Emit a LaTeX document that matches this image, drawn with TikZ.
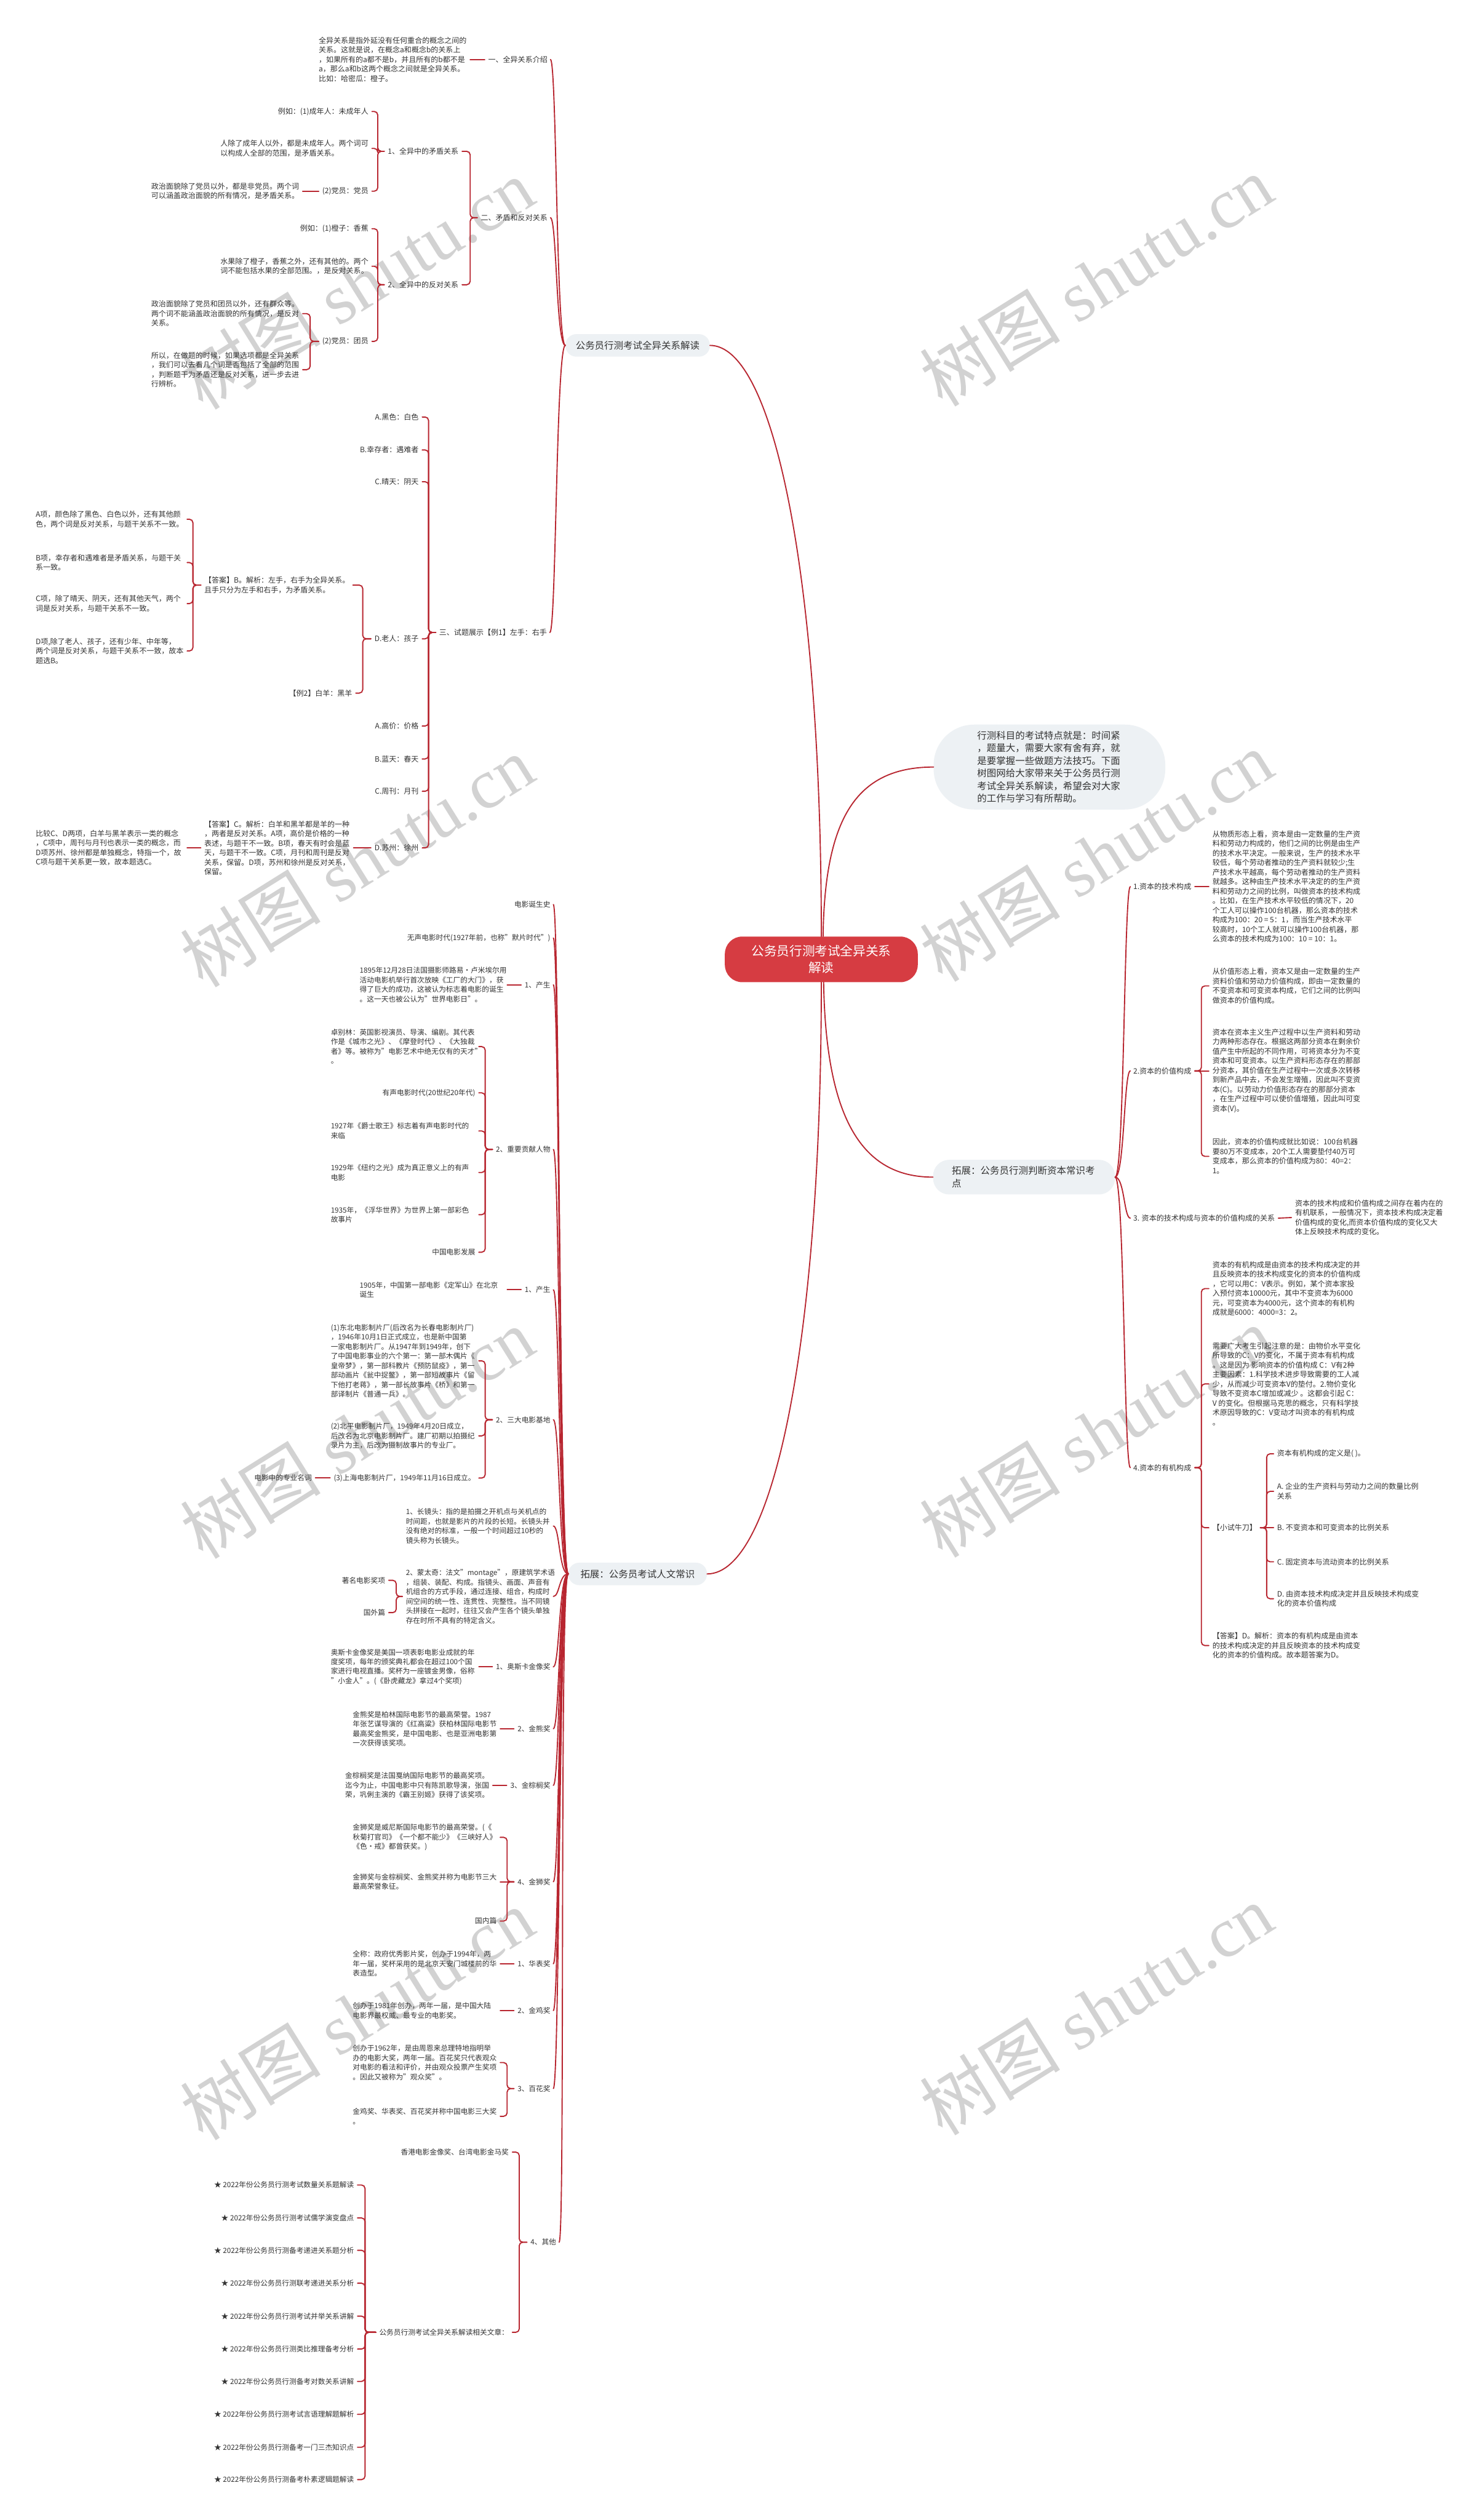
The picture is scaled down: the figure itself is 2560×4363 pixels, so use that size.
\documentclass[tikz,border=0pt]{standalone}
\usepackage{fontspec}
\setmainfont{Noto Sans CJK SC}
\newfontfamily\wmlat{Liberation Serif}
\usetikzlibrary{calc}
\definecolor{lc}{HTML}{B82630}
\definecolor{tc}{HTML}{333333}
\definecolor{pillc}{HTML}{EDF1F4}
\definecolor{redc}{HTML}{D63C42}
\definecolor{wmc}{HTML}{D2D2D2}
\newcommand{\fsa}{\fontsize{12.8}{16.5}\selectfont}
\newcommand{\fsb}{\fontsize{12.45}{16.5}\selectfont}
\newcommand{\fsm}{\fontsize{16.5}{21.8}\selectfont}
\newcommand{\fsc}{\fontsize{22}{29}\selectfont}
\newcommand{\fsw}{\fontsize{122}{122}\selectfont}
\tikzset{
 conn/.style={draw=lc, line width=2pt, line cap=round},
 basetxt/.style={inner sep=0pt, text=tc, align=left},
 tl/.style={basetxt, anchor=east, font=\fsa},
 tr/.style={basetxt, anchor=west, font=\fsa},
 bl/.style={basetxt, anchor=east, font=\fsb},
 pill/.style={fill=pillc, inner sep=0pt, text=tc, font=\fsm, align=center},
 wmk/.style={anchor=base west, rotate=32, text=wmc, inner sep=0pt, font=\fsw},
}
\newcommand{\hlink}[2]{\draw[conn] ([xshift=6]#1.east) -- ([xshift=-6]#2.west);}
\newcommand{\brL}[3]{\draw[conn, rounded corners=6] ([xshift=-6]#1.west) -- (#3 |- #1.west) |- ([xshift=6]#2.east);}
\newcommand{\brR}[3]{\draw[conn, rounded corners=6] ([xshift=6]#1.east) -- (#3 |- #1.east) |- ([xshift=-6]#2.west);}
\newcommand{\cvL}[2]{\draw[conn] (#1.west) .. controls ($(#1.west)+(-16,0)$) and ($(#2.east)+(16,0)$) .. ($(#2.east)+(5,0)$);}
\newcommand{\cvR}[2]{\draw[conn] (#1.east) .. controls ($(#1.east)+(16,0)$) and ($(#2.west)+(-16,0)$) .. ($(#2.west)+(-5,0)$);}
\begin{document}
\begin{tikzpicture}[x=1pt, y=-1pt]
\useasboundingbox (0,0) rectangle (2560,4363);
\fill[white] (0,0) rectangle (2560,4363);
% watermarks
\foreach \yy in {712,1712,2702,3708} {\node[wmk] at (352,\yy) {树图\hspace{0.25em}{\wmlat shutu.cn}};}
\foreach \yy in {707,1703,2700,3700} {\node[wmk] at (1632,\yy) {树图\hspace{0.25em}{\wmlat shutu.cn}};}
% ===== center and level 1 =====
\node[fill=redc, text=white, font=\fsc, align=center, inner sep=0pt, minimum width=334, minimum height=79, rounded corners=30] (ctr) at (1422,1661) {公务员行测考试全异关系\\解读};
\node[pill, minimum width=250, minimum height=39, rounded corners=19] (L1a) at (1104,598) {公务员行测考试全异关系解读};
\node[pill, minimum width=401, minimum height=147, rounded corners=70, text width=250, align=left] (R1) at (1817,1328) {行测科目的考试特点就是：时间紧\\，题量大，需要大家有舍有弃，就\\是要掌握一些做题方法技巧。下面\\树图网给大家带来关于公务员行测\\考试全异关系解读，希望会对大家\\的工作与学习有所帮助。};
\node[pill, minimum width=315, minimum height=60, rounded corners=28, text width=250, align=left] (R2) at (1773,2038) {拓展：公务员行测判断资本常识考\\点};
\node[pill, minimum width=240, minimum height=39, rounded corners=19] (L1b) at (1104,2725) {拓展：公务员考试人文常识};
\draw[conn] (ctr.north) .. controls (1422,1000) and (1340,598) .. (L1a.east);
\draw[conn] ([xshift=3]ctr.north) .. controls (1428,1420) and (1480,1328) .. (R1.west);
\draw[conn] (ctr.south) .. controls (1422,2320) and (1340,2725) .. (L1b.east);
\draw[conn] ([xshift=4]ctr.south) .. controls (1430,1950) and (1500,2038) .. (R2.west);
% ===== L1a subtree =====
\node[tl] (c1) at (948,103) {一、全异关系介绍};
\node[tl] (c2) at (948,377) {二、矛盾和反对关系};
\node[tl] (c3) at (947,1095) {三、试题展示【例1】左手：右手};
\cvL{L1a}{c1} \cvL{L1a}{c2} \cvL{L1a}{c3}
\node[tl, text width=256] (t1) at (808,103) {全异关系是指外延没有任何重合的概念之间的\\关系。这就是说，在概念a和概念b的关系上\\，如果所有的a都不是b，并且所有的b都不是\\a，那么a和b这两个概念之间就是全异关系。\\比如：哈密瓜：橙子。};
\hlink{t1}{c1}
\coordinate (xB2) at (814,0);
\node[tl] (c2a) at (794,262) {1、全异中的矛盾关系};
\node[tl] (c2b) at (794,493) {2、全异中的反对关系};
\brL{c2}{c2a}{xB2} \brL{c2}{c2b}{xB2}
\coordinate (xB3) at (654,0);
\node[tl] (d1) at (638,193) {例如：(1)成年人：未成年人};
\node[tl, text width=256] (d2) at (638,257) {人除了成年人以外，都是未成年人。两个词可\\以构成人全部的范围，是矛盾关系。};
\node[tl] (d3) at (638,331) {(2)党员：党员};
\brL{c2a}{d1}{xB3} \brL{c2a}{d2}{xB3} \brL{c2a}{d3}{xB3}
\node[tl, text width=256] (e1) at (518,331) {政治面貌除了党员以外，都是非党员。两个词\\可以涵盖政治面貌的所有情况，是矛盾关系。};
\hlink{e1}{d3}
\node[tl] (d4) at (638,396) {例如：(1)橙子：香蕉};
\node[tl, text width=256] (d5) at (638,461) {水果除了橙子，香蕉之外，还有其他的。两个\\词不能包括水果的全部范围。，是反对关系。};
\node[tl] (d6) at (638,591) {(2)党员：团员};
\brL{c2b}{d4}{xB3} \brL{c2b}{d5}{xB3} \brL{c2b}{d6}{xB3}
\coordinate (xB4) at (537,0);
\node[tl, text width=256] (e2) at (518,543) {政治面貌除了党员和团员以外，还有群众等。\\两个词不能涵盖政治面貌的所有情况，是反对\\关系。};
\node[tl, text width=256] (e3) at (518,640) {所以，在做题的时候，如果选项都是全异关系\\，我们可以去看几个词是否包括了全部的范围\\，判断题干为矛盾还是反对关系，进一步去进\\行辨析。};
\brL{d6}{e2}{xB4} \brL{d6}{e3}{xB4}
% c3 subtree
\coordinate (xB5) at (742,0);
\node[tl] (f1) at (725,722) {A.黑色：白色};
\node[tl] (f2) at (725,779) {B.幸存者：遇难者};
\node[tl] (f3) at (725,834) {C.晴天：阴天};
\node[tl] (f4) at (725,1106) {D.老人：孩子};
\node[tl] (f5) at (725,1257) {A.高价：价格};
\node[tl] (f6) at (725,1314) {B.蓝天：春天};
\node[tl] (f7) at (725,1370) {C.周刊：月刊};
\node[tl] (f8) at (725,1468) {D.苏州：徐州};
\foreach \n in {f1,f2,f3,f4,f5,f6,f7,f8} {\brL{c3}{\n}{xB5}}
\coordinate (xB6) at (628,0);
\node[tl, text width=251] (g1) at (605,1013) {【答案】B。解析：左手，右手为全异关系。\\且手只分为左手和右手，为矛盾关系。};
\node[tl] (g2) at (610,1200) {【例2】白羊：黑羊};
\brL{f4}{g1}{xB6} \brL{f4}{g2}{xB6}
\coordinate (xB7) at (334,0);
\node[tl, text width=256] (h1) at (318,899) {A项，颜色除了黑色、白色以外，还有其他颜\\色，两个词是反对关系，与题干关系不一致。};
\node[tl, text width=256] (h2) at (318,974) {B项，幸存者和遇难者是矛盾关系，与题干关\\系一致。};
\node[tl, text width=256] (h3) at (318,1045) {C项，除了晴天、阴天，还有其他天气，两个\\词是反对关系，与题干关系不一致。};
\node[tl, text width=256] (h4) at (318,1127) {D项,除了老人、孩子，还有少年、中年等，\\两个词是反对关系，与题干关系不一致，故本\\题选B。};
\foreach \n in {h1,h2,h3,h4} {\brL{g1}{\n}{xB7}}
\node[tl, text width=252] (g3) at (606,1468) {【答案】C。解析：白羊和黑羊都是羊的一种\\，两者是反对关系。A项，高价是价格的一种\\表述，与题干不一致。B项，春天有时会是蓝\\天，与题干不一致。C项，月刊和周刊是反对\\关系，保留。D项，苏州和徐州是反对关系，\\保留。};
\hlink{g3}{f8}
\node[tl, text width=256] (h5) at (318,1468) {比较C、D两项，白羊与黑羊表示一类的概念\\，C项中，周刊与月刊也表示一类的概念，而\\D项苏州、徐州都是单独概念，特指一个，故\\C项与题干关系更一致，故本题选C。};
\hlink{h5}{g3}
% ===== R2 subtree =====
\node[tr] (k1) at (1962,1535) {1.资本的技术构成};
\node[tr] (k2) at (1962,1854) {2.资本的价值构成};
\node[tr] (k3) at (1962,2109) {3. 资本的技术构成与资本的价值构成的关系};
\node[tr] (k4) at (1962,2541) {4.资本的有机构成};
\cvR{R2}{k1} \cvR{R2}{k2} \cvR{R2}{k3} \cvR{R2}{k4}
\node[tr] (m1) at (2099,1535) {从物质形态上看，资本是由一定数量的生产资\\料和劳动力构成的，他们之间的比例是由生产\\的技术水平决定。一般来说，生产的技术水平\\较低，每个劳动者推动的生产资料就较少;生\\产技术水平越高，每个劳动者推动的生产资料\\就越多。这种由生产技术水平决定的的生产资\\料和劳动力之间的比例，叫做资本的技术构成\\。比如，在生产技术水平较低的情况下，20\\个工人可以操作100台机器，那么资本的技术\\构成为100：20 = 5：1，而当生产技术水平\\较高时，10个工人就可以操作100台机器，那\\么资本的技术构成为100：10 = 10：1。};
\hlink{k1}{m1}
\coordinate (xB8) at (2080,0);
\node[tr] (m2) at (2099,1707) {从价值形态上看，资本又是由一定数量的生产\\资料价值和劳动力价值构成，即由一定数量的\\不变资本和可变资本构成，它们之间的比例叫\\做资本的价值构成。};
\node[tr] (m3) at (2099,1854) {资本在资本主义生产过程中以生产资料和劳动\\力两种形态存在。根据这两部分资本在剩余价\\值产生中所起的不同作用，可将资本分为不变\\资本和可变资本。以生产资料形态存在的那部\\分资本，其价值在生产过程中一次或多次转移\\到新产品中去，不会发生增殖，因此叫不变资\\本(C)。以劳动力价值形态存在的那部分资本\\，在生产过程中可以使价值增殖，因此叫可变\\资本(V)。};
\node[tr] (m4) at (2099,2002) {因此，资本的价值构成就比如说：100台机器\\要80万不变成本，20个工人需要垫付40万可\\变成本，那么资本的价值构成为80：40=2：\\1。};
\brR{k2}{m2}{xB8} \hlink{k2}{m3} \brR{k2}{m4}{xB8}
\node[tr] (m5) at (2242,2108) {资本的技术构成和价值构成之间存在着内在的\\有机联系，一般情况下，资本技术构成决定着\\价值构成的变化,而资本价值构成的变化又大\\体上反映技术构成的变化。};
\hlink{k3}{m5}
\node[tr] (m6) at (2099,2231) {资本的有机构成是由资本的技术构成决定的并\\且反映资本的技术构成变化的资本的价值构成\\，它可以用C：V表示。例如，某个资本家投\\入预付资本10000元，其中不变资本为6000\\元，可变资本为4000元，这个资本的有机构\\成就是6000：4000=3：2。};
\node[tr] (m7) at (2099,2396) {需要广大考生引起注意的是：由物价水平变化\\所导致的C：V的变化，不属于资本有机构成\\。这是因为 影响资本的价值构成 C：V有2种\\主要因素：1.科学技术进步导致需要的工人减\\少，从而减少可变资本V的垫付。2.物价变化\\导致不变资本C增加或减少 。这都会引起 C：\\V 的变化。但根据马克思的概念，只有科学技\\术原因导致的C：V变动才叫资本的有机构成\\。};
\node[tr] (m8) at (2099,2645) {【小试牛刀】};
\node[tr] (m9) at (2099,2849) {【答案】D。解析：资本的有机构成是由资本\\的技术构成决定的并且反映资本的技术构成变\\化的资本的价值构成。故本题答案为D。};
\foreach \n in {m6,m7,m8,m9} {\brR{k4}{\n}{xB8}}
\coordinate (xB10) at (2193,0);
\node[tr] (n1) at (2211,2517) {资本有机构成的定义是( )。};
\node[tr] (n2) at (2211,2582) {A. 企业的生产资料与劳动力之间的数量比例\\关系};
\node[tr] (n3) at (2211,2645) {B. 不变资本和可变资本的比例关系};
\node[tr] (n4) at (2211,2704) {C. 固定资本与流动资本的比例关系};
\node[tr] (n5) at (2211,2768) {D. 由资本技术构成决定并且反映技术构成变\\化的资本价值构成};
\brR{m8}{n1}{xB10} \brR{m8}{n2}{xB10} \hlink{m8}{n3} \brR{m8}{n4}{xB10} \brR{m8}{n5}{xB10}
% ===== L1b subtree =====
\node[bl] (p1) at (953,1566) {电影诞生史};
\node[bl] (p2) at (953,1624) {无声电影时代(1927年前，也称"默片时代")};
\node[bl] (p3) at (953,1705) {1、产生};
\node[bl] (p4) at (953,1990) {2、重要贡献人物};
\node[bl] (p5) at (953,2233) {1、产生};
\node[bl] (p6) at (953,2458) {2、三大电影基地};
\node[bl, text width=250] (p7) at (953,2642) {1、长镜头：指的是拍摄之开机点与关机点的\\时间距，也就是影片的片段的长短。长镜头并\\没有绝对的标准，一般一个时间超过10秒的\\镜头称为长镜头。};
\node[bl, text width=250] (p8) at (953,2764) {2、蒙太奇：法文"montage"，原建筑学术语\\，组装、装配、构成。指镜头、画面、声音有\\机组合的方式手段，通过连接、组合，构成时\\间空间的统一性、连贯性、完整性。当不同镜\\头拼接在一起时，往往又会产生各个镜头单独\\存在时所不具有的特定含义。};
\node[bl] (p9) at (953,2886) {1、奥斯卡金像奖};
\node[bl] (p10) at (953,2993) {2、金熊奖};
\node[bl] (p11) at (953,3091) {3、金棕榈奖};
\node[bl] (p12) at (953,3258) {4、金狮奖};
\node[bl] (p13) at (953,3400) {1、华表奖};
\node[bl] (p14) at (953,3481) {2、金鸡奖};
\node[bl] (p15) at (953,3616) {3、百花奖};
\node[bl] (p16) at (963,3882) {4、其他};
\foreach \n in {p1,p2,p3,p4,p5,p6,p7,p8,p9,p10,p11,p12,p13,p14,p15,p16} {\cvL{L1b}{\n}}
\node[bl, text width=249] (q1) at (872,1705) {1895年12月28日法国摄影师路易·卢米埃尔用\\活动电影机举行首次放映《工厂的大门》，获\\得了巨大的成功，这被认为标志着电影的诞生\\。这一天也被公认为"世界电影日"。};
\hlink{q1}{p3}
\coordinate (xB11) at (840,0);
\node[bl, text width=250] (q2) at (823,1812) {卓别林：英国影视演员、导演、编剧。其代表\\作是《城市之光》、《摩登时代》、《大独裁\\者》等。被称为"电影艺术中绝无仅有的天才"\\。};
\node[bl] (q3) at (823,1892) {有声电影时代(20世纪20年代)};
\node[bl, text width=250] (q4) at (823,1958) {1927年《爵士歌王》标志着有声电影时代的\\来临};
\node[bl, text width=250] (q5) at (823,2030) {1929年《纽约之光》成为真正意义上的有声\\电影};
\node[bl, text width=250] (q6) at (823,2103) {1935年，《浮华世界》为世界上第一部彩色\\故事片};
\node[bl] (q7) at (823,2168) {中国电影发展};
\foreach \n in {q2,q3,q4,q5,q6,q7} {\brL{p4}{\n}{xB11}}
\node[bl, text width=249] (q1b) at (872,2233) {1905年，中国第一部电影《定军山》在北京\\诞生};
\hlink{q1b}{p5}
\node[bl, text width=250] (q8) at (823,2356) {(1)东北电影制片厂(后改名为长春电影制片厂)\\，1946年10月1日正式成立，也是新中国第\\一家电影制片厂。从1947年到1949年，创下\\了中国电影事业的六个第一：第一部木偶片《\\皇帝梦》，第一部科教片《预防鼠疫》，第一\\部动画片《瓮中捉鳖》，第一部短故事片《留\\下他打老蒋》，第一部长故事片《桥》和第一\\部译制片《普通一兵》。};
\node[bl, text width=250] (q9) at (823,2486) {(2)北平电影制片厂，1949年4月20日成立，\\后改名为北京电影制片厂。建厂初期以拍摄纪\\录片为主，后改为摄制故事片的专业厂。};
\node[bl] (q10) at (823,2559) {(3)上海电影制片厂，1949年11月16日成立。};
\foreach \n in {q8,q9,q10} {\brL{p6}{\n}{xB11}}
\node[bl] (r3) at (540,2559) {电影中的专业名词};
\hlink{r3}{q10}
\coordinate (xB12) at (686,0);
\node[bl] (r1) at (667,2736) {著名电影奖项};
\node[bl] (r2) at (667,2792) {国外篇};
\brL{p8}{r1}{xB12} \brL{p8}{r2}{xB12}
\node[bl, text width=250] (q11) at (823,2886) {奥斯卡金像奖是美国一项表彰电影业成就的年\\度奖项，每年的颁奖典礼都会在超过100个国\\家进行电视直播。奖杯为一座镀金男像，俗称\\"小金人"。(《卧虎藏龙》拿过4个奖项)};
\hlink{q11}{p9}
\node[bl, text width=249] (q12) at (860,2993) {金熊奖是柏林国际电影节的最高荣誉。1987\\年张艺谋导演的《红高粱》获柏林国际电影节\\最高奖金熊奖，是中国电影、也是亚洲电影第\\一次获得该奖项。};
\hlink{q12}{p10}
\node[bl, text width=249] (q13) at (847,3091) {金棕榈奖是法国戛纳国际电影节的最高奖项。\\迄今为止，中国电影中只有陈凯歌导演，张国\\荣，巩俐主演的《霸王别姬》获得了该奖项。};
\hlink{q13}{p11}
\coordinate (xB13) at (878,0);
\node[bl, text width=249] (q14) at (860,3181) {金狮奖是威尼斯国际电影节的最高荣誉。(《\\秋菊打官司》《一个都不能少》《三峡好人》\\《色·戒》都曾获奖。)};
\node[bl, text width=249] (q15) at (860,3258) {金狮奖与金棕榈奖、金熊奖并称为电影节三大\\最高荣誉象征。};
\node[bl] (q16) at (860,3326) {国内篇};
\brL{p12}{q14}{xB13} \hlink{q15}{p12} \brL{p12}{q16}{xB13}
\node[bl, text width=249] (q17) at (860,3400) {全称：政府优秀影片奖，创办于1994年，两\\年一届，奖杯采用的是北京天安门城楼前的华\\表造型。};
\hlink{q17}{p13}
\node[bl, text width=249] (q18) at (860,3481) {创办于1981年创办，两年一届，是中国大陆\\电影界最权威、最专业的电影奖。};
\hlink{q18}{p14}
\node[bl, text width=249] (q19) at (860,3571) {创办于1962年，是由周恩来总理特地指明举\\办的电影大奖，两年一届。百花奖只代表观众\\对电影的看法和评价，并由观众投票产生奖项\\。因此又被称为"观众奖"。};
\node[bl, text width=249] (q20) at (860,3664) {金鸡奖、华表奖、百花奖并称中国电影三大奖\\。};
\brL{p15}{q19}{xB13} \brL{p15}{q20}{xB13}
\coordinate (xB14) at (899,0);
\node[bl] (s1) at (881,3726) {香港电影金像奖、台湾电影金马奖};
\node[bl] (s2) at (881,4038) {公务员行测考试全异关系解读相关文章：};
\brL{p16}{s1}{xB14} \brL{p16}{s2}{xB14}
\coordinate (xB15) at (632,0);
\node[bl] (u1) at (613,3783) {★ 2022年份公务员行测考试数量关系题解读};
\node[bl] (u2) at (613,3840) {★ 2022年份公务员行测考试儒学演变盘点};
\node[bl] (u3) at (613,3896) {★ 2022年份公务员行测备考递进关系题分析};
\node[bl] (u4) at (613,3953) {★ 2022年份公务员行测联考递进关系分析};
\node[bl] (u5) at (613,4010) {★ 2022年份公务员行测考试并举关系讲解};
\node[bl] (u6) at (613,4067) {★ 2022年份公务员行测类比推理备考分析};
\node[bl] (u7) at (613,4123) {★ 2022年份公务员行测备考对数关系讲解};
\node[bl] (u8) at (613,4180) {★ 2022年份公务员行测考试言语理解题解析};
\node[bl] (u9) at (613,4237) {★ 2022年份公务员行测备考一门三杰知识点};
\node[bl] (u10) at (613,4293) {★ 2022年份公务员行测备考朴素逻辑题解读};
\foreach \n in {u1,u2,u3,u4,u5,u6,u7,u8,u9,u10} {\brL{s2}{\n}{xB15}}
\end{tikzpicture}
\end{document}
